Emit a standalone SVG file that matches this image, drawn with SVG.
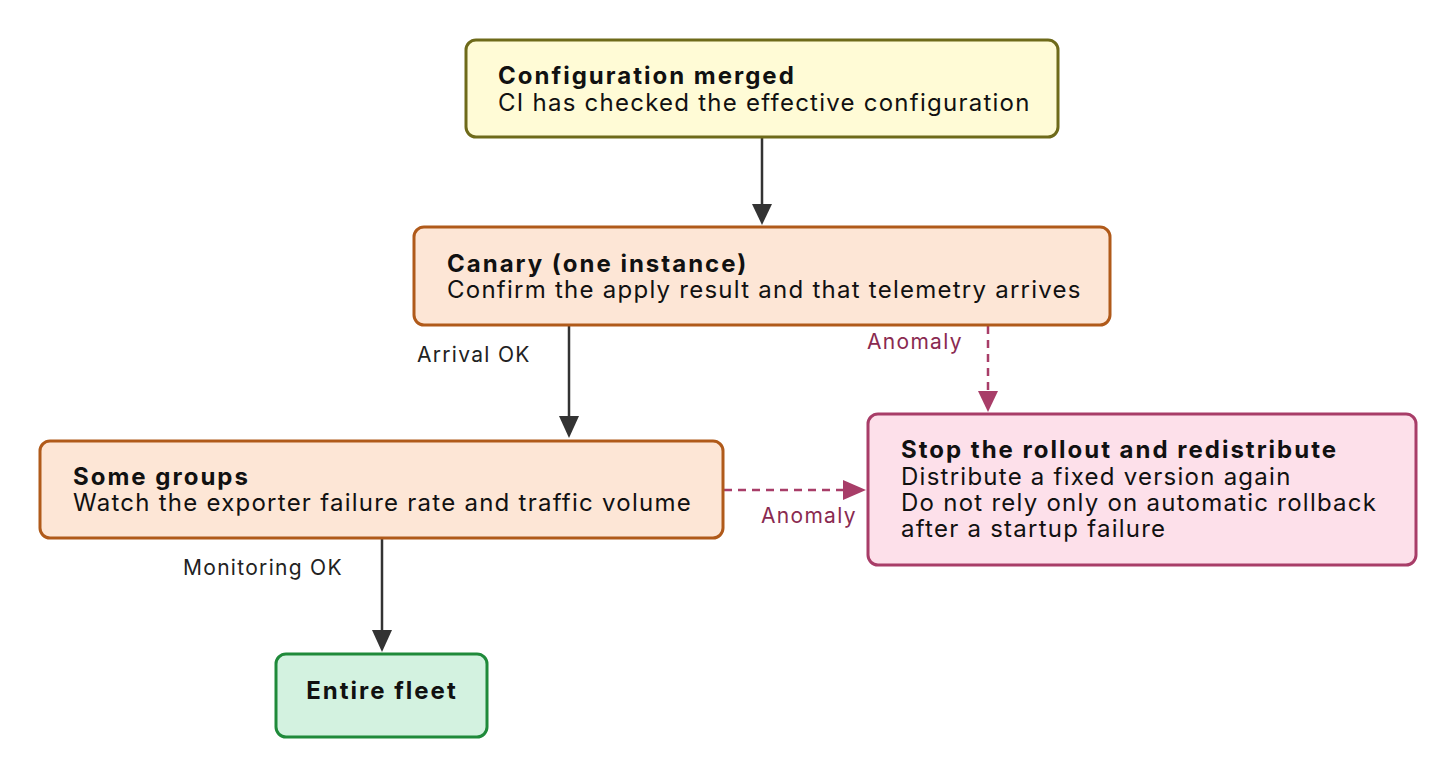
<svg xmlns="http://www.w3.org/2000/svg" width="1456" height="778" viewBox="0 0 1456 778">
<style>
.t{font-family:Inter,"Noto Sans",sans-serif;font-size:24px;font-weight:700;fill:#111;letter-spacing:2px}
.b{font-family:Inter,"Noto Sans",sans-serif;font-size:24px;fill:#111;letter-spacing:1.25px}
.l{font-family:Inter,"Noto Sans",sans-serif;font-size:21px;fill:#222;letter-spacing:1.3px}
.la{font-family:Inter,"Noto Sans",sans-serif;font-size:21px;fill:#8a2a50;letter-spacing:1.3px}
.s{stroke:#333;stroke-width:2.5;fill:none}
.d{stroke:#a83d68;stroke-width:2.5;fill:none;stroke-dasharray:8 6}
</style>
<rect width="1456" height="778" fill="#fff"/>
<g id="connectors">
<line class="s" x1="762" y1="138" x2="762" y2="206"/><path d="M752,204L762,225L772,204z" fill="#333"/>
<line class="s" x1="569" y1="326" x2="569" y2="418"/><path d="M559,416L569,438L579,416z" fill="#333"/>
<line class="d" x1="988" y1="326" x2="988" y2="394"/><path d="M978,391L988,412L998,391z" fill="#a83d68"/>
<line class="d" x1="724" y1="490" x2="846" y2="490"/><path d="M843,480L866,490L843,500z" fill="#a83d68"/>
<line class="s" x1="382" y1="539" x2="382" y2="632"/><path d="M372,630L382,652L392,630z" fill="#333"/>
<text class="l" x="417" y="362">Arrival OK</text>
<text class="la" x="867" y="349">Anomaly</text>
<text class="la" x="761" y="523">Anomaly</text>
<text class="l" x="183" y="575">Monitoring OK</text>
</g>
<g id="config"><rect x="466" y="40" width="592" height="97" rx="10" fill="#fffbd6" stroke="#6e6a1a" stroke-width="3"/>
<text class="t" x="498" y="84">Configuration merged</text><text class="b" x="498" y="111">CI has checked the effective configuration</text></g>
<g id="canary"><rect x="414" y="227" width="696" height="98" rx="10" fill="#fde6d6" stroke="#b05a1a" stroke-width="3"/>
<text class="t" x="447" y="272">Canary (one instance)</text><text class="b" x="447" y="298">Confirm the apply result and that telemetry arrives</text></g>
<g id="groups"><rect x="40" y="441" width="683" height="97" rx="10" fill="#fde6d6" stroke="#b05a1a" stroke-width="3"/>
<text class="t" x="73" y="485">Some groups</text><text class="b" x="73" y="511">Watch the exporter failure rate and traffic volume</text></g>
<g id="stop"><rect x="868" y="414" width="548" height="151" rx="10" fill="#fde0ea" stroke="#a83d68" stroke-width="3"/>
<text class="t" x="901" y="458">Stop the rollout and redistribute</text><text class="b" x="901" y="485">Distribute a fixed version again</text><text class="b" x="901" y="511">Do not rely only on automatic rollback</text><text class="b" x="901" y="537">after a startup failure</text></g>
<g id="fleet"><rect x="276" y="654" width="211" height="83" rx="10" fill="#d3f2e0" stroke="#1f8a3a" stroke-width="3"/>
<text class="t" x="382" y="699" text-anchor="middle">Entire fleet</text></g>
</svg>
